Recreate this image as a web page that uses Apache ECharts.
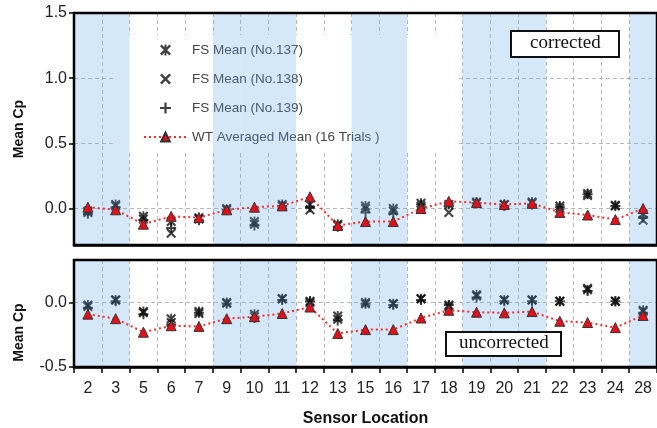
<!DOCTYPE html>
<html>
<head>
<meta charset="utf-8">
<script src="https://cdn.jsdelivr.net/npm/echarts@6/dist/echarts.min.js"></script>
<style>
  html, body { margin: 0; padding: 0; background: #fff; }
  #main { width: 657px; height: 428px; }
</style>
</head>
<body>
<div id="main"></div>
<script>
// sensor locations on the x axis
const sensors = ['2','3','5','6','7','9','10','11','12','13','15','16','17','18','19','20','21','22','23','24','28'];
// columns with blue background
const shadedSensors = ['2','3','9','10','11','15','16','19','20','21','28'];

// corrected (top panel)
const wtCorrected   = [0.01,-0.01,-0.12,-0.06,-0.07,-0.01,0.01,0.02,0.09,-0.13,-0.10,-0.10,0.00,0.055,0.045,0.03,0.04,-0.03,-0.05,-0.085,0.00];
const fs137Corr     = [-0.02,0.03,-0.06,-0.10,-0.07,-0.01,-0.10,0.03,0.03,-0.12,0.02,0.00,0.04,0.03,0.05,0.03,0.05,0.02,0.115,0.025,-0.04];
const fs138Corr     = [-0.03,0.02,-0.08,-0.19,-0.08,0.00,-0.12,0.02,-0.01,-0.13,0.00,-0.02,0.02,-0.03,0.04,0.03,0.04,0.00,0.10,0.02,-0.09];
const fs139Corr     = [-0.04,0.01,-0.09,-0.15,-0.09,-0.01,-0.13,0.02,0.01,-0.14,-0.03,-0.04,0.03,0.04,0.04,0.02,0.03,0.01,0.11,0.02,-0.07];

// uncorrected (bottom panel)
const wtUncorrected = [-0.09,-0.125,-0.23,-0.18,-0.185,-0.125,-0.11,-0.085,-0.035,-0.24,-0.21,-0.21,-0.12,-0.06,-0.075,-0.08,-0.07,-0.145,-0.155,-0.195,-0.10];
const fs137Unc      = [-0.02,0.02,-0.07,-0.125,-0.07,0.00,-0.09,0.03,0.01,-0.105,0.00,-0.01,0.03,-0.02,0.06,0.02,0.02,0.01,0.10,0.01,-0.06];
const fs138Unc      = [-0.03,0.02,-0.08,-0.155,-0.085,-0.005,-0.11,0.03,0.00,-0.13,-0.01,-0.01,0.03,-0.03,0.05,0.02,0.02,0.01,0.11,0.01,-0.07];
const fs139Unc      = [-0.04,0.01,-0.09,-0.17,-0.08,-0.01,-0.12,0.02,0.01,-0.14,-0.01,-0.02,0.02,-0.02,0.04,0.01,0.01,0.01,0.09,0.01,-0.08];

const names = ['FS Mean (No.137)', 'FS Mean (No.138)', 'FS Mean (No.139)', 'WT Averaged Mean (16 Trials )'];

// marker shapes
const symX = 'path://M0,1.5 L1.5,0 L10,8.5 L8.5,10 Z M8.5,0 L10,1.5 L1.5,10 L0,8.5 Z';
const symPlus = 'path://M4,0 L6,0 L6,10 L4,10 Z M0,4 L10,4 L10,6 L0,6 Z';
const symStar = 'path://M0,1.5 L1.5,0 L10,8.5 L8.5,10 Z M8.5,0 L10,1.5 L1.5,10 L0,8.5 Z M4.1,0 L5.9,0 L5.9,10 L4.1,10 Z';

const font = 'Liberation Sans, Arial, sans-serif';

var chart = echarts.init(document.getElementById('main'));

function fsSeries(name, data, sym, idx) {
    return {
        name: name, type: 'scatter', xAxisIndex: idx, yAxisIndex: idx,
        data: data, symbol: sym, symbolSize: 10, z: 2,
        itemStyle: { color: '#111' }
    };
}

function wtSeries(data, idx) {
    return {
        name: names[3], type: 'line', xAxisIndex: idx, yAxisIndex: idx,
        data: data, symbol: 'triangle', symbolSize: 10, z: 6,
        lineStyle: { color: '#ff2a2a', width: 2, type: [2, 3] },
        itemStyle: { color: '#e3101a', borderColor: '#333', borderWidth: 1 }
    };
}

function shadeSeries(idx) {
    return {
        type: 'custom', xAxisIndex: idx, yAxisIndex: idx, z: 5, silent: true,
        data: shadedSensors.map(s => [s]),
        renderItem: function (params, api) {
            var cs = params.coordSys;
            var c = api.coord([api.value(0), 0]);
            var w = api.size([1, 0])[0];
            return {
                type: 'rect',
                shape: { x: c[0] - w / 2, y: cs.y, width: w, height: cs.height },
                style: { fill: 'rgba(100,170,235,0.27)' }
            };
        }
    };
}

function xAxisFor(idx, labels) {
    return {
        type: 'category', gridIndex: idx, data: sensors,
        axisLine: { show: true, onZero: false, lineStyle: { color: '#000', width: 2.5 } },
        axisTick: { show: labels, length: 6, lineStyle: { color: '#000', width: 1.5 } },
        axisLabel: { show: labels, fontSize: 16, color: '#222', fontFamily: font, margin: 14 },
        splitLine: { show: true, lineStyle: { color: '#b8b8b8', type: [4, 3], width: 1 } },
        name: labels ? 'Sensor Location' : '', nameLocation: 'middle', nameGap: 44,
        nameTextStyle: { fontSize: 16, fontWeight: 'bold', color: '#111', fontFamily: font }
    };
}

function yAxisFor(idx, min, max, split, extra) {
    return Object.assign({
        type: 'value', gridIndex: idx, min: min, max: max, splitNumber: split,
        axisLine: { show: false },
        axisTick: { show: true, length: 5, lineStyle: { color: '#000', width: 1.5 } },
        splitLine: { show: true, lineStyle: { color: '#b8b8b8', type: [4, 3], width: 1 } },
        name: 'Mean Cp', nameLocation: 'middle', nameGap: 48
    }, extra);
}

let option = {
    animation: false,
    grid: [
        { left: 74, top: 13, width: 585, height: 232, show: true, z: 7,
          borderColor: '#000', borderWidth: 2.5, backgroundColor: 'transparent' },
        { left: 74, top: 260, width: 585, height: 108, show: true, z: 7,
          borderColor: '#000', borderWidth: 2.5, backgroundColor: 'transparent' }
    ],
    xAxis: [xAxisFor(0, false), xAxisFor(1, true)],
    yAxis: [
        yAxisFor(0, -0.28, 1.5, 4, {
            axisLabel: { fontSize: 16, color: '#222', fontFamily: font, margin: 7,
                         showMinLabel: false, formatter: v => v.toFixed(1) },
            nameTextStyle: { fontSize: 14, fontWeight: 'bold', color: '#111', fontFamily: font } }),
        yAxisFor(1, -0.5, 0.33, 2, {
            axisLabel: { fontSize: 16, color: '#222', fontFamily: font, margin: 7,
                         showMaxLabel: false, formatter: v => v.toFixed(1) },
            nameTextStyle: { fontSize: 14, fontWeight: 'bold', color: '#111', fontFamily: font, padding: [0, 38, 0, 0] } })
    ],
    legend: {
        data: names, orient: 'vertical', left: 115, top: 35,
        backgroundColor: '#fff', padding: [8, 78, 9, 28],
        itemGap: 15, itemWidth: 43, itemHeight: 11, z: 4,
        textStyle: { fontSize: 13.5, color: '#444', fontFamily: font }
    },
    title: [
        { text: 'corrected', left: 511, top: 31, padding: [3, 19, 4, 19], z: 10,
          borderColor: '#111', borderWidth: 2, backgroundColor: '#fff',
          textStyle: { fontSize: 19, fontWeight: 'normal', color: '#111', fontFamily: 'Liberation Serif, Times New Roman, serif' } },
        { text: 'uncorrected', left: 446, top: 332, padding: [2, 13, 3, 13], z: 10,
          borderColor: '#111', borderWidth: 2, backgroundColor: '#fff',
          textStyle: { fontSize: 19, fontWeight: 'normal', color: '#111', fontFamily: 'Liberation Serif, Times New Roman, serif' } }
    ],
    series: [
        fsSeries(names[0], fs137Corr, symStar, 0),
        fsSeries(names[1], fs138Corr, symX, 0),
        fsSeries(names[2], fs139Corr, symPlus, 0),
        wtSeries(wtCorrected, 0),
        shadeSeries(0),
        fsSeries(names[0], fs137Unc, symStar, 1),
        fsSeries(names[1], fs138Unc, symX, 1),
        fsSeries(names[2], fs139Unc, symPlus, 1),
        wtSeries(wtUncorrected, 1),
        shadeSeries(1)
    ]
};

chart.setOption(option);
</script>
</body>
</html>
